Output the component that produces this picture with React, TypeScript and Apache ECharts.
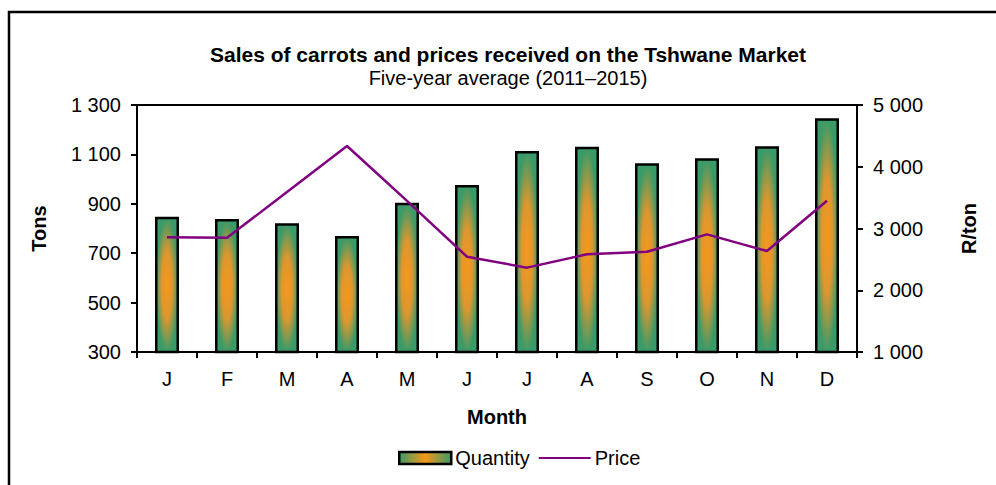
import React, { useEffect, useRef } from "react";
import * as echarts from "echarts";

const months = ["J", "F", "M", "A", "M", "J", "J", "A", "S", "O", "N", "D"];
const quantity = [848, 838, 821, 770, 904, 976, 1114, 1131, 1064, 1084, 1133, 1246];
const price = [2857, 2850, 3590, 4336, 3447, 2543, 2366, 2582, 2624, 2905, 2635, 3450];

const FONT = "'Liberation Sans', Arial, sans-serif";
const FS = 20;

const fmt = (v: number) => {
  const s = String(Math.round(v));
  return s.replace(/\B(?=(\d{3})+(?!\d))/g, " ");
};

export default function App() {
  const ref = useRef<HTMLDivElement>(null);
  useEffect(() => {
    document.body.style.margin = "0";
    if (!ref.current) return;
    const chart = echarts.init(ref.current, null, { renderer: "svg" });
    const barFill = new echarts.graphic.RadialGradient(0.5, 0.5, 0.5, [
      { offset: 0, color: "#f7971a" },
      { offset: 0.5, color: "#dc9730" },
      { offset: 1, color: "#3a9a68" },
    ]);
    const legendFill = new echarts.graphic.LinearGradient(0, 0, 1, 0, [
      { offset: 0, color: "#3a9a68" },
      { offset: 0.5, color: "#f7971a" },
      { offset: 1, color: "#3a9a68" },
    ]);
    chart.setOption({
      animation: false,
      backgroundColor: "#fff",
      textStyle: { fontFamily: FONT, color: "#000" },
      title: {
        text: "Sales of carrots and prices received on the Tshwane Market",
        subtext: "Five-year average (2011–2015)",
        left: 503,
        textAlign: "center",
        top: 39,
        itemGap: 3,
        textStyle: { fontFamily: FONT, fontSize: 21, fontWeight: "bold", color: "#000" },
        subtextStyle: { fontFamily: FONT, fontSize: FS, color: "#000" },
      },
      legend: {
        left: 393,
        top: 443,
        itemWidth: 52,
        itemHeight: 12,
        itemGap: 8,
        textStyle: { fontFamily: FONT, fontSize: FS, color: "#000", padding: [0, 0, 0, -1] },
        data: [
          { name: "Quantity", icon: "rect", itemStyle: { color: legendFill, borderColor: "#000", borderWidth: 2.5 } },
          { name: "Price", itemStyle: { opacity: 0 } },
        ],
      },
      grid: {
        left: 137,
        right: 139,
        top: 105,
        bottom: 133,
        show: true,
        borderColor: "#000",
        borderWidth: 2,
        backgroundColor: "transparent",
      },
      xAxis: {
        type: "category",
        data: months,
        name: "Month",
        nameLocation: "middle",
        nameGap: 55,
        nameTextStyle: { fontFamily: FONT, fontSize: FS, fontWeight: "bold", color: "#000" },
        axisLine: { lineStyle: { color: "#000", width: 2 } },
        axisTick: { show: true, length: 6, lineStyle: { color: "#000", width: 2 } },
        axisLabel: { fontFamily: FONT, fontSize: FS, color: "#000", margin: 17 },
      },
      yAxis: [
        {
          type: "value",
          min: 300,
          max: 1300,
          interval: 200,
          name: "Tons",
          nameLocation: "middle",
          nameGap: 88,
          nameRotate: 90,
          nameTextStyle: { fontFamily: FONT, fontSize: FS, fontWeight: "bold", color: "#000" },
          axisLine: { show: true, lineStyle: { color: "#000", width: 2 } },
          axisTick: { show: true, length: 6, lineStyle: { color: "#000", width: 2 } },
          axisLabel: { fontFamily: FONT, fontSize: FS, color: "#000", margin: 16, formatter: fmt },
          splitLine: { show: false },
        },
        {
          type: "value",
          min: 1000,
          max: 5000,
          interval: 1000,
          name: "R/ton",
          nameLocation: "middle",
          nameGap: 102,
          nameRotate: 90,
          nameTextStyle: { fontFamily: FONT, fontSize: FS, fontWeight: "bold", color: "#000" },
          axisLine: { show: true, lineStyle: { color: "#000", width: 2 } },
          axisTick: { show: true, length: 6, lineStyle: { color: "#000", width: 2 } },
          axisLabel: { fontFamily: FONT, fontSize: FS, color: "#000", margin: 16, formatter: fmt },
          splitLine: { show: false },
        },
      ],
      series: [
        {
          name: "Quantity",
          type: "bar",
          yAxisIndex: 0,
          data: quantity,
          barWidth: 24,
          itemStyle: { color: barFill, borderColor: "#000", borderWidth: 2.5 },
        },
        {
          name: "Price",
          type: "line",
          yAxisIndex: 1,
          data: price,
          symbol: "none",
          lineStyle: { color: "#800080", width: 2.5 },
          itemStyle: { color: "#800080" },
        },
      ],
      graphic: [
        {
          type: "rect",
          shape: { x: 9, y: 12, width: 1100, height: 600 },
          style: { fill: "none", stroke: "#000", lineWidth: 2.5 },
          silent: true,
        },
      ],
    });
    return () => chart.dispose();
  }, []);
  return <div ref={ref} style={{ width: 996, height: 485 }} />;
}
